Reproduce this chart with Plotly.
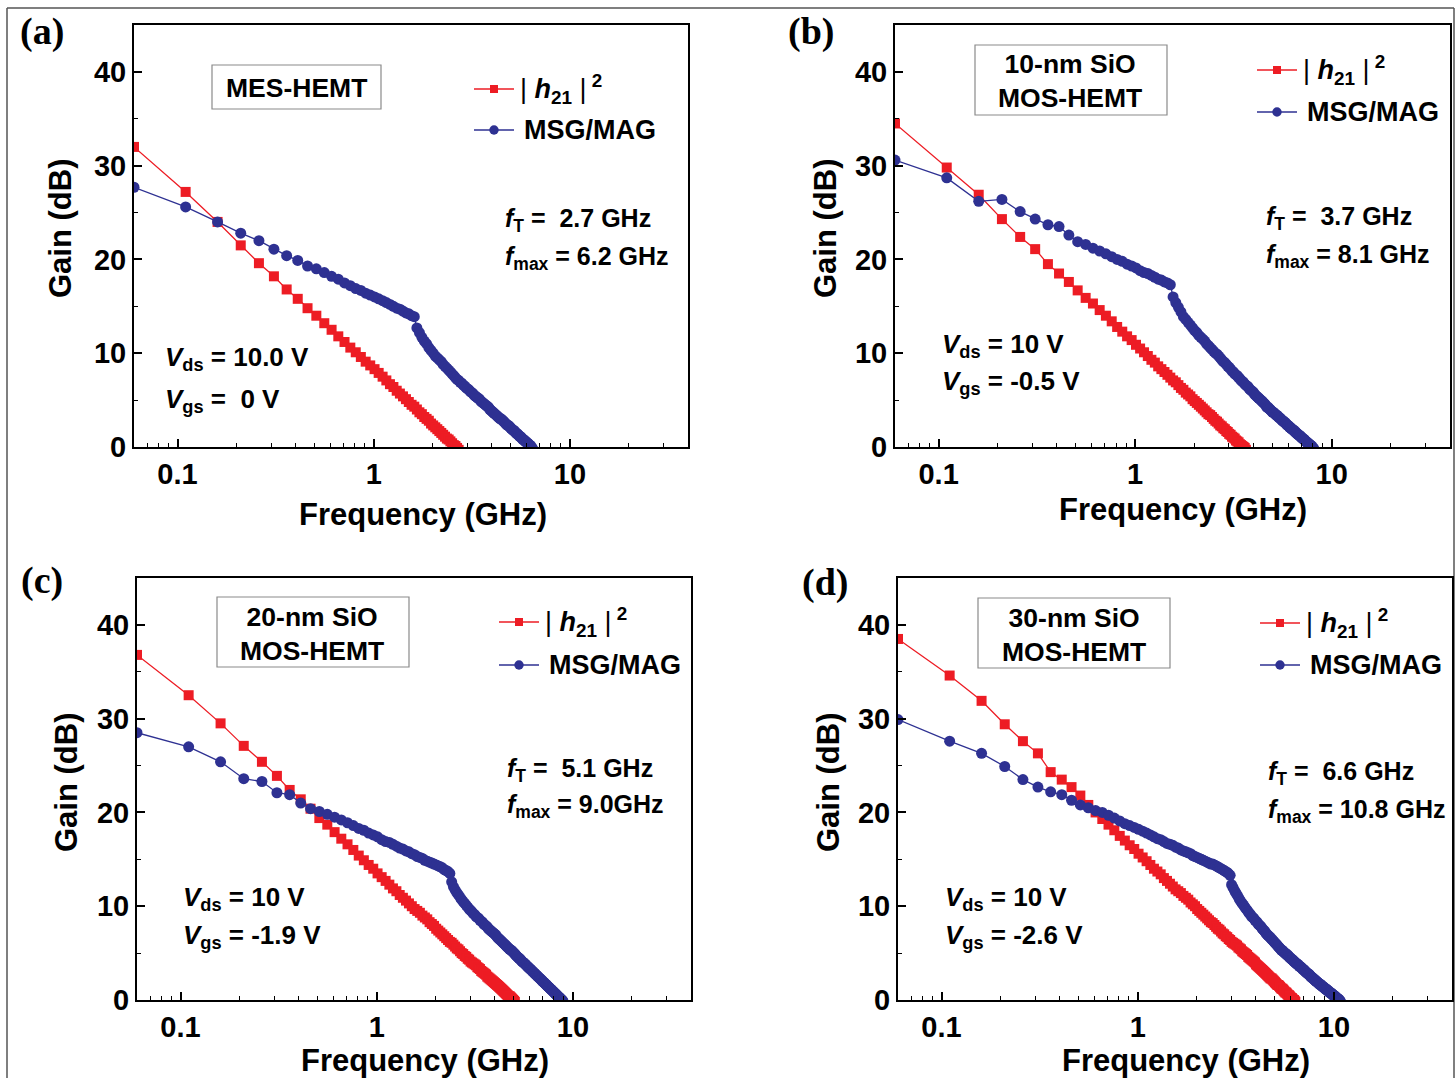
import math
import plotly.graph_objects as go

W, H = 1455, 1078

# ---------------- data ----------------
FREQ_GHZ = [
    0.06, 0.11, 0.16, 0.21, 0.26, 0.31, 0.36, 0.41, 0.46, 0.51,
    0.56, 0.61, 0.66, 0.71, 0.76, 0.81, 0.86, 0.91, 0.96, 1.01,
    1.06, 1.11, 1.16, 1.21, 1.26, 1.31, 1.36, 1.41, 1.46, 1.51,
    1.56, 1.61, 1.66, 1.71, 1.76, 1.81, 1.86, 1.91, 1.96, 2.01,
    2.06, 2.11, 2.16, 2.21, 2.26, 2.31, 2.36, 2.41, 2.46, 2.51,
    2.56, 2.61, 2.66, 2.71, 2.76, 2.81, 2.86, 2.91, 2.96, 3.01,
    3.06, 3.11, 3.16, 3.21, 3.26, 3.31, 3.36, 3.41, 3.46, 3.51,
    3.56, 3.61, 3.66, 3.71, 3.76, 3.81, 3.86, 3.91, 3.96, 4.01,
    4.06, 4.11, 4.16, 4.21, 4.26, 4.31, 4.36, 4.41, 4.46, 4.51,
    4.56, 4.61, 4.66, 4.71, 4.76, 4.81, 4.86, 4.91, 4.96, 5.01,
    5.06, 5.11, 5.16, 5.21, 5.26, 5.31, 5.36, 5.41, 5.46, 5.51,
    5.56, 5.61, 5.66, 5.71, 5.76, 5.81, 5.86, 5.91, 5.96, 6.01,
    6.06, 6.11, 6.16, 6.21, 6.26, 6.31, 6.36, 6.41, 6.46, 6.51,
    6.56, 6.61, 6.66, 6.71, 6.76, 6.81, 6.86, 6.91, 6.96, 7.01,
    7.06, 7.11, 7.16, 7.21, 7.26, 7.31, 7.36, 7.41, 7.46, 7.51,
    7.56, 7.61, 7.66, 7.71, 7.76, 7.81, 7.86, 7.91, 7.96, 8.01,
    8.06, 8.11, 8.16, 8.21, 8.26, 8.31, 8.36, 8.41, 8.46, 8.51,
    8.56, 8.61, 8.66, 8.71, 8.76, 8.81, 8.86, 8.91, 8.96, 9.01,
    9.06, 9.11, 9.16, 9.21, 9.26, 9.31, 9.36, 9.41, 9.46, 9.51,
    9.56, 9.61, 9.66, 9.71, 9.76, 9.81, 9.86, 9.91, 9.96, 10.01,
    10.06, 10.11, 10.16, 10.21, 10.26, 10.31, 10.36, 10.41, 10.46, 10.51,
    10.56, 10.61, 10.66, 10.71, 10.76, 10.81, 10.86, 10.91, 10.96, 11.01,
]

# (a) MES-HEMT
H21_A = [
    32.0, 27.2, 24.0, 21.5, 19.6, 18.2, 16.8, 15.8, 14.8, 14.0,
    13.2, 12.5, 11.8, 11.2, 10.6, 10.1, 9.6, 9.1, 8.7, 8.3,
    7.9, 7.5, 7.1, 6.7, 6.4, 6.0, 5.7, 5.4, 5.1, 4.8,
    4.5, 4.3, 4.0, 3.7, 3.5, 3.2, 3.0, 2.8, 2.5, 2.3,
    2.1, 1.9, 1.7, 1.5, 1.3, 1.1, 0.9, 0.8, 0.6, 0.4,
    0.2, 0.1, -0.1, -0.3,
]
MSG_A = [
    27.7, 25.6, 24.0, 22.8, 22.0, 21.1, 20.4, 19.9, 19.3, 19.0,
    18.6, 18.2, 17.9, 17.5, 17.2, 16.9, 16.7, 16.4, 16.2, 16.0,
    15.8, 15.6, 15.4, 15.2, 15.0, 14.8, 14.7, 14.5, 14.3, 14.2,
    14.0, 13.9, 12.7, 12.2, 11.7, 11.3, 11.0, 10.6, 10.3, 10.0,
    9.7, 9.5, 9.3, 9.1, 8.8, 8.6, 8.4, 8.2, 8.0, 7.8,
    7.6, 7.4, 7.2, 7.1, 6.9, 6.8, 6.6, 6.5, 6.3, 6.2,
    6.1, 5.9, 5.8, 5.7, 5.5, 5.4, 5.3, 5.2, 5.1, 4.9,
    4.8, 4.7, 4.6, 4.5, 4.4, 4.3, 4.2, 4.0, 3.9, 3.8,
    3.7, 3.6, 3.5, 3.4, 3.3, 3.2, 3.1, 3.0, 3.0, 2.9,
    2.8, 2.7, 2.6, 2.5, 2.4, 2.3, 2.3, 2.2, 2.1, 2.0,
    1.9, 1.8, 1.8, 1.7, 1.6, 1.5, 1.4, 1.4, 1.3, 1.2,
    1.1, 1.1, 1.0, 0.9, 0.8, 0.8, 0.7, 0.6, 0.6, 0.5,
    0.4, 0.4, 0.3, 0.2, 0.2, 0.1, 0.0, -0.1, -0.2,
]

# (b) 10-nm SiO MOS-HEMT
H21_B = [
    34.5, 29.8, 26.9, 24.3, 22.4, 21.1, 19.5, 18.5, 17.6, 16.7,
    15.9, 15.3, 14.6, 14.0, 13.4, 12.8, 12.3, 11.8, 11.4, 10.9,
    10.5, 10.1, 9.7, 9.3, 9.0, 8.6, 8.3, 8.0, 7.7, 7.4,
    7.1, 6.9, 6.6, 6.3, 6.1, 5.8, 5.6, 5.4, 5.1, 4.9,
    4.7, 4.5, 4.3, 4.1, 3.9, 3.7, 3.5, 3.4, 3.2, 3.0,
    2.8, 2.7, 2.5, 2.3, 2.2, 2.0, 1.9, 1.7, 1.6, 1.4,
    1.3, 1.1, 1.0, 0.9, 0.7, 0.6, 0.5, 0.3, 0.2, 0.1,
    0.0, -0.1, -0.3,
]
MSG_B = [
    30.6, 28.7, 26.2, 26.4, 25.1, 24.3, 23.7, 23.5, 22.6, 21.9,
    21.6, 21.2, 20.9, 20.6, 20.3, 20.0, 19.8, 19.5, 19.3, 19.1,
    18.8, 18.6, 18.5, 18.3, 18.1, 17.9, 17.8, 17.6, 17.5, 17.3,
    16.0, 15.4, 14.9, 14.4, 13.9, 13.6, 13.3, 13.0, 12.7, 12.4,
    12.2, 11.9, 11.7, 11.5, 11.3, 11.0, 10.8, 10.6, 10.4, 10.2,
    10.0, 9.9, 9.7, 9.5, 9.3, 9.1, 9.0, 8.8, 8.6, 8.5,
    8.3, 8.1, 8.0, 7.8, 7.7, 7.6, 7.4, 7.3, 7.1, 7.0,
    6.9, 6.7, 6.6, 6.5, 6.4, 6.2, 6.1, 6.0, 5.9, 5.8,
    5.6, 5.5, 5.4, 5.3, 5.2, 5.1, 5.0, 4.9, 4.8, 4.7,
    4.6, 4.5, 4.3, 4.2, 4.2, 4.1, 4.0, 3.9, 3.8, 3.7,
    3.7, 3.6, 3.5, 3.4, 3.4, 3.3, 3.2, 3.1, 3.1, 3.0,
    2.9, 2.8, 2.8, 2.7, 2.6, 2.6, 2.5, 2.4, 2.3, 2.3,
    2.2, 2.1, 2.1, 2.0, 1.9, 1.9, 1.8, 1.8, 1.7, 1.6,
    1.6, 1.5, 1.4, 1.4, 1.3, 1.3, 1.2, 1.2, 1.1, 1.0,
    1.0, 0.9, 0.9, 0.8, 0.8, 0.7, 0.6, 0.6, 0.5, 0.5,
    0.4, 0.4, 0.3, 0.3, 0.2, 0.2, 0.1, 0.1, 0.0, -0.1,
    -0.1, -0.2,
]

# (c) 20-nm SiO MOS-HEMT
H21_C = [
    36.8, 32.5, 29.5, 27.1, 25.4, 23.9, 22.4, 21.4, 20.4, 19.4,
    18.7, 17.9, 17.2, 16.6, 16.0, 15.4, 14.9, 14.4, 14.0, 13.5,
    13.1, 12.7, 12.3, 11.9, 11.6, 11.2, 10.9, 10.6, 10.3, 10.0,
    9.7, 9.5, 9.3, 9.0, 8.8, 8.6, 8.3, 8.1, 7.9, 7.6,
    7.4, 7.2, 7.0, 6.8, 6.6, 6.4, 6.2, 6.1, 5.9, 5.7,
    5.5, 5.4, 5.2, 5.0, 4.9, 4.7, 4.6, 4.4, 4.3, 4.1,
    4.0, 3.9, 3.8, 3.7, 3.5, 3.4, 3.3, 3.1, 3.0, 2.9,
    2.8, 2.7, 2.5, 2.4, 2.3, 2.2, 2.1, 2.0, 1.9, 1.8,
    1.7, 1.6, 1.5, 1.4, 1.3, 1.2, 1.1, 1.0, 0.9, 0.8,
    0.7, 0.6, 0.5, 0.4, 0.4, 0.3, 0.2, 0.1, 0.0, -0.1,
    -0.2,
]
MSG_C = [
    28.5, 27.0, 25.4, 23.6, 23.3, 22.1, 21.9, 21.0, 20.4, 20.1,
    19.8, 19.5, 19.2, 18.9, 18.6, 18.3, 18.1, 17.8, 17.6, 17.4,
    17.1, 16.9, 16.8, 16.6, 16.4, 16.2, 16.1, 15.9, 15.8, 15.6,
    15.5, 15.3, 15.2, 15.1, 14.9, 14.8, 14.7, 14.6, 14.5, 14.4,
    14.3, 14.2, 14.1, 13.9, 13.8, 13.7, 13.5, 12.6, 12.1, 11.75,
    11.45, 11.2, 10.95, 10.7, 10.5, 10.3, 10.1, 9.9, 9.7, 9.55,
    9.4, 9.2, 9.1, 8.9, 8.8, 8.7, 8.5, 8.4, 8.3, 8.1,
    8.0, 7.9, 7.8, 7.6, 7.5, 7.4, 7.3, 7.2, 7.1, 7.0,
    6.9, 6.7, 6.6, 6.5, 6.4, 6.3, 6.2, 6.1, 6.0, 5.9,
    5.8, 5.7, 5.6, 5.5, 5.4, 5.35, 5.3, 5.2, 5.1, 5.0,
    4.9, 4.8, 4.7, 4.6, 4.55, 4.45, 4.4, 4.3, 4.2, 4.1,
    4.05, 3.98, 3.9, 3.83, 3.75, 3.67, 3.59, 3.52, 3.44, 3.37,
    3.3, 3.23, 3.15, 3.08, 3.01, 2.94, 2.87, 2.8, 2.73, 2.66,
    2.59, 2.52, 2.46, 2.39, 2.33, 2.27, 2.2, 2.13, 2.07, 2.0,
    1.94, 1.88, 1.82, 1.76, 1.7, 1.63, 1.57, 1.51, 1.45, 1.4,
    1.34, 1.28, 1.22, 1.17, 1.1, 1.05, 0.99, 0.94, 0.88, 0.83,
    0.77, 0.72, 0.67, 0.6, 0.55, 0.5, 0.45, 0.39, 0.34, 0.29,
    0.24, 0.19, 0.13, 0.08, 0.03, -0.02, -0.07, -0.15,
]

# (d) 30-nm SiO MOS-HEMT
H21_D = [
    38.5, 34.6, 31.9, 29.4, 27.6, 26.3, 24.3, 23.5, 22.7, 21.8,
    20.8, 20.0, 19.3, 18.7, 18.1, 17.5, 17.0, 16.5, 16.1, 15.6,
    15.2, 14.8, 14.4, 14.0, 13.7, 13.4, 13.0, 12.7, 12.4, 12.1,
    11.8, 11.6, 11.4, 11.1, 10.9, 10.7, 10.4, 10.2, 10.0, 9.7,
    9.5, 9.3, 9.1, 8.9, 8.7, 8.5, 8.3, 8.2, 8.0, 7.8,
    7.6, 7.5, 7.3, 7.1, 7.0, 6.8, 6.7, 6.5, 6.4, 6.2,
    6.1, 6.0, 5.9, 5.8, 5.6, 5.5, 5.4, 5.2, 5.1, 5.0,
    4.9, 4.8, 4.6, 4.5, 4.4, 4.3, 4.2, 4.1, 4.0, 3.8,
    3.7, 3.6, 3.5, 3.4, 3.3, 3.2, 3.1, 3.0, 2.9, 2.8,
    2.7, 2.6, 2.5, 2.4, 2.3, 2.3, 2.2, 2.1, 2.0, 1.9,
    1.8, 1.7, 1.6, 1.6, 1.5, 1.4, 1.3, 1.2, 1.2, 1.1,
    1.0, 0.9, 0.8, 0.8, 0.7, 0.6, 0.5, 0.5, 0.4, 0.3,
    0.2, 0.2, 0.1, 0.0, 0.0, -0.1, -0.2,
]
MSG_D = [
    29.9, 27.6, 26.3, 24.9, 23.5, 22.7, 22.2, 21.9, 21.3, 20.8,
    20.5, 20.2, 20.0, 19.7, 19.4, 19.1, 18.8, 18.6, 18.4, 18.2,
    18.0, 17.8, 17.6, 17.4, 17.2, 17.1, 16.9, 16.7, 16.6, 16.5,
    16.3, 16.2, 16.0, 15.9, 15.8, 15.7, 15.6, 15.4, 15.3, 15.2,
    15.1, 15.0, 14.9, 14.8, 14.7, 14.6, 14.5, 14.5, 14.4, 14.3,
    14.2, 14.1, 14.0, 13.9, 13.8, 13.7, 13.6, 13.45, 13.3, 12.3,
    12.0, 11.7, 11.45, 11.2, 10.95, 10.7, 10.5, 10.3, 10.12, 9.93,
    9.75, 9.58, 9.4, 9.23, 9.1, 8.9, 8.8, 8.7, 8.5, 8.4,
    8.3, 8.1, 8.0, 7.9, 7.8, 7.6, 7.5, 7.4, 7.3, 7.1,
    7.0, 6.9, 6.8, 6.7, 6.6, 6.5, 6.4, 6.3, 6.2, 6.1,
    6.0, 5.9, 5.8, 5.7, 5.6, 5.5, 5.4, 5.3, 5.3, 5.2,
    5.1, 5.0, 5.0, 4.9, 4.8, 4.8, 4.7, 4.6, 4.5, 4.5,
    4.4, 4.3, 4.3, 4.2, 4.1, 4.1, 4.0, 3.9, 3.9, 3.8,
    3.8, 3.7, 3.6, 3.6, 3.5, 3.5, 3.4, 3.3, 3.3, 3.2,
    3.2, 3.1, 3.0, 3.0, 2.9, 2.9, 2.8, 2.8, 2.7, 2.7,
    2.6, 2.5, 2.5, 2.4, 2.4, 2.3, 2.3, 2.2, 2.2, 2.1,
    2.1, 2.0, 2.0, 1.9, 1.9, 1.8, 1.8, 1.7, 1.7, 1.7,
    1.6, 1.6, 1.5, 1.5, 1.4, 1.4, 1.4, 1.3, 1.3, 1.2,
    1.2, 1.2, 1.1, 1.1, 1.0, 1.0, 1.0, 0.9, 0.9, 0.8,
    0.8, 0.8, 0.7, 0.7, 0.7, 0.6, 0.6, 0.5, 0.5, 0.5,
    0.4, 0.4, 0.4, 0.3, 0.3, 0.2, 0.2, 0.2, 0.1, 0.1,
    0.1, 0.0, 0.0, -0.1, -0.1, -0.2,
]

PANEL_TAGS = ["(a)", "(b)", "(c)", "(d)"]
DEVICE_LINES = [["MES-HEMT"], ["10-nm SiO", "MOS-HEMT"],
                ["20-nm SiO", "MOS-HEMT"], ["30-nm SiO", "MOS-HEMT"]]
FT_TEXT = ["\u00a02.7 GHz", "\u00a03.7 GHz", "\u00a05.1 GHz", "\u00a06.6 GHz"]
FMAX_TEXT = ["6.2 GHz", "8.1 GHz", "9.0GHz", "10.8 GHz"]
VDS_TEXT = ["10.0 V", "10 V", "10 V", "10 V"]
VGS_TEXT = ["\u00a00 V", "-0.5 V", "-1.9 V", "-2.6 V"]
H21_SERIES = [H21_A, H21_B, H21_C, H21_D]
MSG_SERIES = [MSG_A, MSG_B, MSG_C, MSG_D]

X_TICKS = [0.1, 1, 10]
X_TICK_TEXT = ["0.1", "1", "10"]
Y_TICKS = [0, 10, 20, 30, 40]

# ---------------- layout / style ----------------
RED = "#ED1C24"
BLUE = "#2E3192"
SANS = "Liberation Sans, Arial, sans-serif"
SERIF = "Liberation Serif, Times New Roman, serif"

GEOM = [
    dict(x0=134, x1=688, y0=25, y1=447, tag=(42, 32), ytitle=(60, 228), xtitle=(423, 514),
         box=(212, 65, 381, 109), box_c=(296, 88), legx=474, leg_r=89, leg_b=130,
         ft=(503, 220), fmax=(503, 258), vds=(163, 358), vgs=(163, 400)),
    dict(x0=895, x1=1450, y0=25, y1=447, tag=(811, 32), ytitle=(825, 228), xtitle=(1183, 510),
         box=(975, 45, 1167, 115), box_c=(1070, 81), legx=1257, leg_r=70, leg_b=112,
         ft=(1264, 218), fmax=(1264, 256), vds=(940, 345), vgs=(940, 383)),
    dict(x0=137, x1=691, y0=578, y1=1000, tag=(42, 580), ytitle=(66, 782), xtitle=(425, 1060),
         box=(217, 597, 409, 667), box_c=(312, 634), legx=499, leg_r=622, leg_b=665,
         ft=(505, 770), fmax=(505, 806), vds=(181, 898), vgs=(181, 936)),
    dict(x0=898, x1=1452, y0=578, y1=1000, tag=(825, 582), ytitle=(828, 782), xtitle=(1186, 1060),
         box=(978, 598, 1170, 668), box_c=(1074, 635), legx=1260, leg_r=623, leg_b=665,
         ft=(1266, 773), fmax=(1266, 811), vds=(943, 898), vgs=(943, 936)),
]


def px(x):
    return x / W


def py(y):
    return 1 - y / H


fig = go.Figure()
shapes = []
annotations = []
axis_font = dict(family=SANS, size=29, color="black", weight="bold")
minor_x = [0.07, 0.08, 0.09, 0.2, 0.3, 0.4, 0.5, 0.6, 0.7, 0.8, 0.9,
           2, 3, 4, 5, 6, 7, 8, 9, 20, 30]

for i, g in enumerate(GEOM):
    n = "" if i == 0 else str(i + 1)
    xa, ya = "x" + n, "y" + n
    h21 = H21_SERIES[i]
    msg = MSG_SERIES[i]
    fig.add_trace(go.Scatter(
        x=FREQ_GHZ[:len(h21)], y=h21, xaxis=xa, yaxis=ya, mode="lines+markers",
        name="|h21|^2", showlegend=False, cliponaxis=True,
        line=dict(color=RED, width=1.3),
        marker=dict(symbol="square", size=10, color=RED, line=dict(width=0))))
    fig.add_trace(go.Scatter(
        x=FREQ_GHZ[:len(msg)], y=msg, xaxis=xa, yaxis=ya, mode="lines+markers",
        name="MSG/MAG", showlegend=False, cliponaxis=True,
        line=dict(color=BLUE, width=1.3),
        marker=dict(symbol="circle", size=11, color=BLUE, line=dict(width=0))))

    fig.update_layout(**{
        "xaxis" + n: dict(
            domain=[px(g["x0"]), px(g["x1"])], anchor=ya, type="log",
            range=[math.log10(0.06), math.log10(40)], automargin=False,
            tickmode="array", tickvals=X_TICKS, ticktext=X_TICK_TEXT,
            ticks="inside", ticklen=8, tickwidth=1.6, tickcolor="black",
            showline=True, linecolor="black", linewidth=2, mirror=True,
            showgrid=False, zeroline=False, tickfont=axis_font,
            minor=dict(tickmode="array", tickvals=minor_x, ticks="inside",
                       ticklen=4, tickwidth=1.4, tickcolor="black", showgrid=False)),
        "yaxis" + n: dict(
            domain=[py(g["y1"]), py(g["y0"])], anchor=xa, range=[0, 45], automargin=False,
            tickmode="array", tickvals=Y_TICKS,
            ticks="inside", ticklen=8, tickwidth=1.6, tickcolor="black",
            showline=True, linecolor="black", linewidth=2, mirror=True,
            showgrid=False, zeroline=False, tickfont=axis_font,
            minor=dict(tickmode="array", tickvals=[5, 15, 25, 35], ticks="inside",
                       ticklen=4, tickwidth=1.4, tickcolor="black", showgrid=False)),
    })

    # panel tag
    annotations.append(dict(x=px(g["tag"][0]), y=py(g["tag"][1]), xref="paper", yref="paper",
                            text="<b>" + PANEL_TAGS[i] + "</b>", showarrow=False,
                            xanchor="center", yanchor="middle",
                            font=dict(family=SERIF, size=38, color="black")))
    # axis titles
    annotations.append(dict(x=px(g["ytitle"][0]), y=py(g["ytitle"][1]), xref="paper", yref="paper",
                            text="<b>Gain (dB)</b>", showarrow=False, textangle=-90,
                            xanchor="center", yanchor="middle",
                            font=dict(family=SANS, size=31, color="black")))
    annotations.append(dict(x=px(g["xtitle"][0]), y=py(g["xtitle"][1]), xref="paper", yref="paper",
                            text="<b>Frequency (GHz)</b>", showarrow=False,
                            xanchor="center", yanchor="middle",
                            font=dict(family=SANS, size=31, color="black")))
    # device box
    bx0, by0, bx1, by1 = g["box"]
    shapes.append(dict(type="rect", xref="paper", yref="paper",
                       x0=px(bx0), x1=px(bx1), y0=py(by1), y1=py(by0),
                       line=dict(color="#8a8a8a", width=1.2), fillcolor="white"))
    annotations.append(dict(x=px(g["box_c"][0]), y=py(g["box_c"][1]), xref="paper", yref="paper",
                            text="<b>" + "<br>".join(DEVICE_LINES[i]) + "</b>", showarrow=False,
                            xanchor="center", yanchor="middle", align="center",
                            font=dict(family=SANS, size=26.5, color="black")))
    # legend (drawn by hand, Origin style)
    lx = g["legx"]
    for yy, col, sym in [(g["leg_r"], RED, "square"), (g["leg_b"], BLUE, "circle")]:
        shapes.append(dict(type="line", xref="paper", yref="paper",
                           x0=px(lx), x1=px(lx + 40), y0=py(yy), y1=py(yy),
                           line=dict(color=col, width=1.3)))
        r = 4 if sym == "square" else 4.7
        shapes.append(dict(type="rect" if sym == "square" else "circle",
                           xref="paper", yref="paper",
                           x0=px(lx + 20 - r), x1=px(lx + 20 + r),
                           y0=py(yy + r), y1=py(yy - r),
                           line=dict(width=0), fillcolor=col))
    annotations.append(dict(
        x=px(lx + 44), y=py(g["leg_r"]), xref="paper", yref="paper", showarrow=False,
        xanchor="left", yanchor="middle",
        text='<span style="font-weight:normal">|</span><b> <i>h</i><sub>21</sub> </b>'
             '<span style="font-weight:normal">|</span><b><sup> 2</sup></b>',
        font=dict(family=SANS, size=27, color="black")))
    annotations.append(dict(
        x=px(lx + 48), y=py(g["leg_b"]), xref="paper", yref="paper", showarrow=False,
        xanchor="left", yanchor="middle", text="<b>MSG/MAG</b>",
        font=dict(family=SANS, size=27, color="black")))
    # fT / fmax
    annotations.append(dict(
        x=px(g["ft"][0]), y=py(g["ft"][1]), xref="paper", yref="paper", showarrow=False,
        xanchor="left", yanchor="middle",
        text="<b><i>f</i><sub>T</sub> = " + FT_TEXT[i] + "</b>",
        font=dict(family=SANS, size=25, color="black")))
    annotations.append(dict(
        x=px(g["fmax"][0]), y=py(g["fmax"][1]), xref="paper", yref="paper", showarrow=False,
        xanchor="left", yanchor="middle",
        text="<b><i>f</i><sub>max</sub> = " + FMAX_TEXT[i] + "</b>",
        font=dict(family=SANS, size=25, color="black")))
    # bias
    annotations.append(dict(
        x=px(g["vds"][0]), y=py(g["vds"][1]), xref="paper", yref="paper", showarrow=False,
        xanchor="left", yanchor="middle",
        text="<b><i>V</i><sub>ds</sub> = " + VDS_TEXT[i] + "</b>",
        font=dict(family=SANS, size=26, color="black")))
    annotations.append(dict(
        x=px(g["vgs"][0]), y=py(g["vgs"][1]), xref="paper", yref="paper", showarrow=False,
        xanchor="left", yanchor="middle",
        text="<b><i>V</i><sub>gs</sub> = " + VGS_TEXT[i] + "</b>",
        font=dict(family=SANS, size=26, color="black")))

# thin outer frame of the figure (kept inside the page)
FRAME = dict(color="#555555", width=1.5)
for x0, y0, x1, y1 in [(7, 8, 1454, 8), (7, 8, 7, 1078), (1454, 8, 1454, 1078)]:
    shapes.append(dict(type="line", xref="paper", yref="paper",
                       x0=px(x0), x1=px(x1), y0=py(y0), y1=py(y1),
                       line=FRAME, layer="below"))

fig.update_layout(
    width=W, height=H, autosize=False, margin=dict(l=0, r=0, t=0, b=0),
    paper_bgcolor="white", plot_bgcolor="white",
    font=dict(family=SANS, color="black"),
    shapes=shapes, annotations=annotations, showlegend=False,
)

fig.write_html(
    "out.html",
    config={"displayModeBar": False, "responsive": False},
    post_script="document.body.style.margin='0';document.body.style.overflow='hidden';",
)
